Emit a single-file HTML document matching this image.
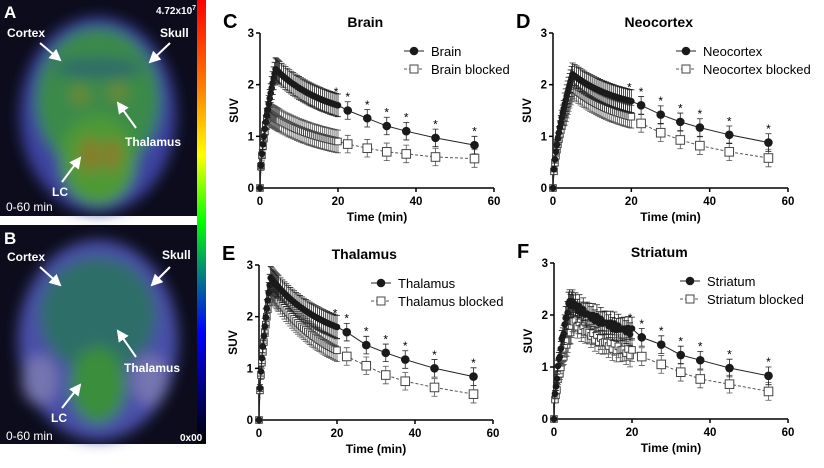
<!DOCTYPE html>
<html><head><meta charset="utf-8"><style>
body{margin:0;width:824px;height:468px;background:#fff;overflow:hidden;font-family:"Liberation Sans",sans-serif}
svg{position:absolute;left:0;top:0}
</style></head><body>
<svg id="s" width="824" height="468" xmlns="http://www.w3.org/2000/svg" font-family="Liberation Sans, sans-serif">
<defs>
<filter id="b6" x="-30%" y="-30%" width="160%" height="160%"><feGaussianBlur stdDeviation="7"/></filter>
<linearGradient id="cb" x1="0" y1="0" x2="0" y2="1">
<stop offset="0" stop-color="#ff0000"/><stop offset="0.2" stop-color="#ff8000"/><stop offset="0.35" stop-color="#ffff00"/>
<stop offset="0.5" stop-color="#00ff00"/><stop offset="0.62" stop-color="#008080"/><stop offset="0.75" stop-color="#0000ff"/>
<stop offset="1" stop-color="#000000"/></linearGradient>
<marker id="ar" markerWidth="6" markerHeight="6" refX="5" refY="3" orient="auto"><path d="M0,0 L6,3 L0,6 z" fill="#fff"/></marker>
</defs>
<rect x="0" y="0" width="197" height="216" fill="#0c0c1c"/>
<g filter="url(#b6)">
<ellipse cx="98" cy="115" rx="78" ry="98" fill="#3c42a0"/>
<ellipse cx="98" cy="100" rx="62" ry="72" fill="#3a8a48"/>
<ellipse cx="98" cy="160" rx="38" ry="45" fill="#4e9a36"/>
<ellipse cx="90" cy="155" rx="10" ry="18" fill="#8a7a2a"/>
<ellipse cx="112" cy="155" rx="9" ry="16" fill="#8a7a2a"/>
<ellipse cx="80" cy="95" rx="10" ry="10" fill="#6a8a36"/>
<ellipse cx="118" cy="92" rx="10" ry="10" fill="#6a8a36"/>
<ellipse cx="98" cy="68" rx="45" ry="10" fill="#2e6a6a"/>
</g>
<rect x="0" y="225" width="206" height="219" fill="#0c0c1c"/>
<g filter="url(#b6)">
<ellipse cx="98" cy="340" rx="80" ry="100" fill="#4a50a8"/>
<ellipse cx="40" cy="380" rx="18" ry="25" fill="#7474b0"/>
<ellipse cx="150" cy="380" rx="18" ry="25" fill="#7474b0"/>
<ellipse cx="98" cy="315" rx="58" ry="58" fill="#2e6e68"/>
<ellipse cx="98" cy="385" rx="28" ry="38" fill="#3a8e3a"/>
</g>
<rect x="197" y="0" width="9" height="443" fill="url(#cb)"/>
<g fill="#fff" font-weight="bold" font-size="12">
<text x="4" y="18" font-size="17">A</text>
<text x="4" y="244" font-size="17">B</text>
<text x="156" y="14" font-size="10">4.72x10<tspan dy="-4" font-size="7">7</tspan></text>
<text x="7" y="37">Cortex</text><text x="160" y="37">Skull</text>
<text x="125" y="146">Thalamus</text><text x="52" y="196">LC</text>
<text x="7" y="261">Cortex</text><text x="162" y="259">Skull</text>
<text x="124" y="372">Thalamus</text><text x="51" y="422">LC</text>
<text x="180" y="441" font-size="10">0x00</text>
</g>
<g fill="#fff" font-size="12"><text x="6" y="211">0-60 min</text><text x="6" y="440">0-60 min</text></g>
<g stroke="#fff" stroke-width="2" marker-end="url(#ar)">
<line x1="40" y1="43" x2="60" y2="60"/><line x1="170" y1="43" x2="150" y2="62"/>
<line x1="136" y1="128" x2="118" y2="103"/><line x1="62" y1="182" x2="80" y2="158"/>
<line x1="40" y1="267" x2="60" y2="285"/><line x1="170" y1="267" x2="152" y2="285"/>
<line x1="136" y1="357" x2="118" y2="331"/><line x1="62" y1="408" x2="80" y2="385"/>
</g>
<g id="charts"></g>
</svg>
<script>
var NS="http://www.w3.org/2000/svg",G=document.getElementById("charts");
function el(t,a,p,txt){var e=document.createElementNS(NS,t);for(var k in a)e.setAttribute(k,a[k]);if(txt!=null)e.textContent=txt;(p||G).appendChild(e);return e;}
var lateT=[22.5,27.5,32.5,37.5,45,55];
function dense(tp,pk,v20,noise){var r=[];for(var t=0;t<=20.01;t+=(t<5?0.25:0.5)){var v;if(t<=tp)v=pk*Math.pow(t/tp,0.6);else{var u=(t-tp)/(20-tp);v=pk+(v20-pk)*(1-Math.exp(-1.2*u))/(1-Math.exp(-1.2));}v+=noise?(Math.sin(t*7)*noise):0;r.push([t,Math.max(0,v)]);}return r;}
function panel(o){
var x0=o.x,y0=o.y,sx=(o.x60-o.x)/60,sy=(o.y-o.y3)/3;
function X(t){return x0+t*sx}function Y(v){return y0-v*sy}
var g=el("g",{});
el("text",{x:x0-37,y:o.y3-5,"font-size":"20","font-weight":"bold"},g,o.L);
el("text",{x:x0+(o.x60-x0)*0.45,y:o.y3-6,"font-size":"14","font-weight":"bold","text-anchor":"middle"},g,o.title);
el("line",{x1:x0,y1:o.y3,x2:x0,y2:y0,stroke:"#000","stroke-width":"1.5"},g);
el("line",{x1:x0,y1:y0,x2:o.x60,y2:y0,stroke:"#000","stroke-width":"1.5"},g);
for(var i=0;i<=3;i++){el("line",{x1:x0-4,y1:Y(i),x2:x0,y2:Y(i),stroke:"#000","stroke-width":"1.5"},g);el("text",{x:x0-6,y:Y(i)+4,"font-size":"11.5","font-weight":"bold","text-anchor":"end"},g,i);}
for(var t=0;t<=60;t+=20){el("line",{x1:X(t),y1:y0,x2:X(t),y2:y0+4,stroke:"#000","stroke-width":"1.5"},g);el("text",{x:X(t),y:y0+17,"font-size":"11.5","font-weight":"bold","text-anchor":"middle"},g,t);}
el("text",{x:(x0+o.x60)/2,y:y0+33,"font-size":"12","font-weight":"bold","text-anchor":"middle"},g,"Time (min)");
el("text",{transform:"translate("+(x0-22)+","+(y0-sy*1.5)+") rotate(-90)","font-size":"12","font-weight":"bold","text-anchor":"middle"},g,"SUV");
[o.b,o.a].forEach(function(s,idx){
var blk=idx==0;var pts=dense(s[0],s[1],s[2],o.noise||0).concat(lateT.map(function(t,j){return[t,s[3][j]]}));
var d=pts.map(function(p,j){return(j?"L":"M")+X(p[0]).toFixed(1)+","+Y(p[1]).toFixed(1)}).join("");
el("path",{d:d,fill:"none",stroke:blk?"#555":"#222","stroke-width":"1","stroke-dasharray":blk?"3,2":"none"},g);
pts.forEach(function(p){var late=p[0]>20;var e=(late?0.15:0.2)*(p[0]<3?p[1]/s[1]:1)+0.02;var cx=X(p[0]),cy=Y(p[1]);
el("path",{d:"M"+cx+","+Y(p[1]-e)+"V"+Y(p[1]+e)+"M"+(cx-3)+","+Y(p[1]+e)+"h6M"+(cx-3)+","+Y(p[1]-e)+"h6",stroke:blk?"#555":"#222","stroke-width":"0.8",fill:"none"},g);
var r=late?4.3:3.3;
if(blk)el("rect",{x:cx-r,y:cy-r,width:2*r,height:2*r,fill:"#fff",stroke:"#444","stroke-width":"1"},g);
else el("circle",{cx:cx,cy:cy,r:r,fill:"#1a1a1a"},g);});
});
[19.5].concat(lateT).forEach(function(t,j){var v=j?o.a[3][j-1]:o.a[2];el("text",{x:X(t),y:Y(v+0.3)+6,"font-size":"12","text-anchor":"middle"},g,"*");});
var lx=o.x60-o.lw,ly=o.y3+18;
el("line",{x1:lx,y1:ly,x2:lx+20,y2:ly,stroke:"#222"},g);el("circle",{cx:lx+10,cy:ly,r:4.3,fill:"#1a1a1a"},g);
el("text",{x:lx+27,y:ly+5,"font-size":"13"},g,o.title);
el("line",{x1:lx,y1:ly+18,x2:lx+20,y2:ly+18,stroke:"#555","stroke-dasharray":"3,2"},g);el("rect",{x:lx+6,y:ly+14,width:8,height:8,fill:"#fff",stroke:"#444"},g);
el("text",{x:lx+27,y:ly+23,"font-size":"13"},g,o.title+" blocked");
}
panel({L:"C",title:"Brain",x:260,y:188,y3:33,x60:494,lw:90,a:[4,2.3,1.6,[1.5,1.35,1.2,1.1,0.97,0.83]],b:[2,1.45,0.9,[0.85,0.77,0.7,0.66,0.6,0.57]]});
panel({L:"D",title:"Neocortex",x:553,y:188,y3:33,x60:788,lw:112,a:[5,2.2,1.68,[1.6,1.42,1.28,1.17,1.03,0.88]],b:[5,1.95,1.38,[1.25,1.07,0.93,0.82,0.7,0.58]]});
panel({L:"E",title:"Thalamus",x:259,y:420,y3:265,x60:493,lw:122,a:[3,2.75,1.8,[1.7,1.45,1.3,1.17,1.0,0.84]],b:[3,2.55,1.35,[1.23,1.05,0.87,0.75,0.63,0.5]]});
panel({L:"F",title:"Striatum",x:554,y:419,y3:263,x60:788,lw:108,noise:0.06,a:[4,2.25,1.68,[1.57,1.43,1.23,1.13,0.98,0.83]],b:[5,1.9,1.27,[1.2,1.05,0.9,0.77,0.67,0.53]]});
</script>
</body></html>
